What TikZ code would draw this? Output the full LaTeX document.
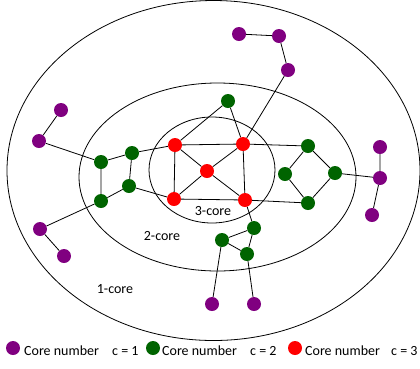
\documentclass[tikz,border=0pt]{standalone}
\usepackage{fontspec}
\setmainfont{Carlito}
\usetikzlibrary{backgrounds}
\definecolor{cpur}{RGB}{128,0,128}
\definecolor{cgrn}{RGB}{0,100,0}
\definecolor{cred}{RGB}{255,0,0}
\begin{document}
\begin{tikzpicture}[x=1pt,y=-1pt,
  vtx/.style={circle,inner sep=0pt,minimum size=14pt},
  pu/.style={vtx,fill=cpur},
  gr/.style={vtx,fill=cgrn},
  rd/.style={vtx,fill=cred},
  edge/.style={draw=black,line width=0.8pt},
  ring/.style={draw=black,line width=0.8pt},
  lbl/.style={font=\fontsize{14}{16}\selectfont,inner sep=0pt}]
\useasboundingbox (0,0) rectangle (420,368);
% ellipses
\draw[ring] (213.5,170.5) ellipse [x radius=206.5, y radius=170];
\draw[ring] (217.5,177) ellipse [x radius=138.5, y radius=94];
\draw[ring] (212,170) ellipse [x radius=63, y radius=53];
% labels
\node[lbl] (l3) at (213,211) {3-core};
\node[lbl] (l2) at (162,236) {2-core};
\node[lbl] (l1) at (115,289) {1-core};
% nodes
\node[pu] (p1) at (239,34) {};
\node[pu] (p2) at (279,36) {};
\node[pu] (p3) at (288,70) {};
\node[pu] (p4) at (61,110) {};
\node[pu] (p5) at (39,141) {};
\node[pu] (p6) at (40,229) {};
\node[pu] (p7) at (64,256) {};
\node[pu] (p8) at (380,147) {};
\node[pu] (p9) at (380,178) {};
\node[pu] (p10) at (372,215) {};
\node[pu] (p11) at (212,304) {};
\node[pu] (p12) at (254,304) {};
\node[gr] (g1) at (101,162) {};
\node[gr] (g2) at (132,153) {};
\node[gr] (g3) at (129,186) {};
\node[gr] (g4) at (101,201) {};
\node[gr] (g5) at (228,101) {};
\node[gr] (g6) at (308,146) {};
\node[gr] (g7) at (285,174) {};
\node[gr] (g8) at (335,173) {};
\node[gr] (g9) at (308,203) {};
\node[gr] (g10) at (254,228) {};
\node[gr] (g11) at (222,240) {};
\node[gr] (g12) at (247,254) {};
\node[rd] (r1) at (175,145) {};
\node[rd] (r2) at (243,144) {};
\node[rd] (r3) at (174,199) {};
\node[rd] (r4) at (245,200) {};
\node[rd] (rc) at (207,171) {};
% edges
\begin{pgfonlayer}{background}
\path[edge] (p1)--(p2) (p2)--(p3) (p3)--(r2)
  (p4)--(p5) (p5)--(g1) (p6)--(p7) (p6)--(g4)
  (p8)--(p9) (p9)--(p10) (p9)--(g8)
  (p11)--(g11) (p12)--(g12)
  (g1)--(g2) (g1)--(g4) (g2)--(g3) (g3)--(g4) (g2)--(r1) (g3)--(r3)
  (g5)--(r1) (g5)--(r2)
  (g6)--(g7) (g6)--(g8) (g7)--(g9) (g8)--(g9) (r2)--(g6) (r4)--(g9)
  (r4)--(g10) (g10)--(g11) (g10)--(g12) (g11)--(g12)
  (r1)--(r2) (r1)--(r3) (r2)--(r4) (r3)--(r4)
  (r1)--(rc) (r2)--(rc) (r3)--(rc) (r4)--(rc);
\end{pgfonlayer}
% legend
\node[pu] (k1) at (13,348) {};
\node[lbl,anchor=west] (t1) at (24,351) {Core number};
\node[lbl,anchor=west] (c1) at (112,351) {c = 1};
\node[gr] (k2) at (153,348) {};
\node[lbl,anchor=west] (t2) at (162,351) {Core number};
\node[lbl,anchor=west] (c2) at (250,351) {c = 2};
\node[rd] (k3) at (295,348) {};
\node[lbl,anchor=west] (t3) at (305,351) {Core number};
\node[lbl,anchor=west] (c3) at (391,351) {c = 3};
\end{tikzpicture}
\end{document}
